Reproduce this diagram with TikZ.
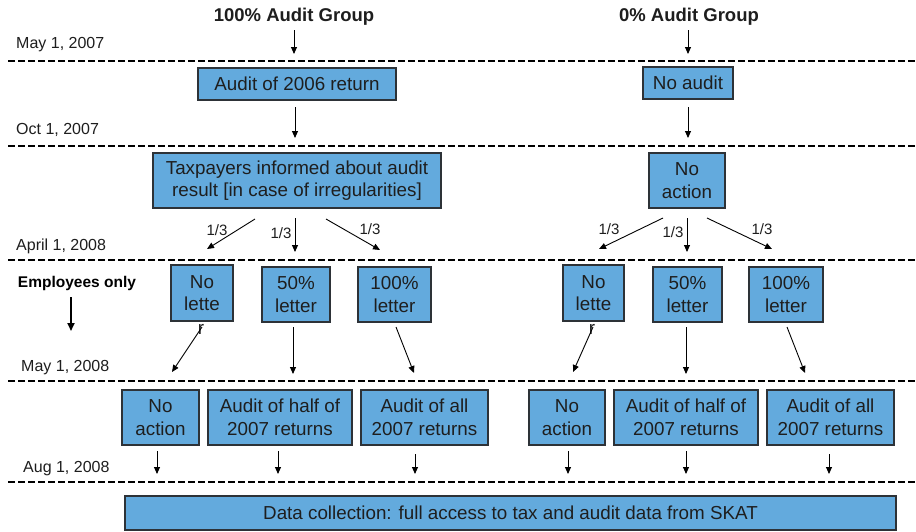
\documentclass[tikz,border=0pt]{standalone}
\usepackage{fontspec}
\setmainfont{Liberation Sans}
\usetikzlibrary{arrows.meta}
\definecolor{boxfill}{RGB}{99,170,221}
\definecolor{boxline}{RGB}{45,50,55}
\definecolor{txt}{RGB}{30,30,30}
\tikzset{
 bx/.style={draw=boxline, line width=1.2pt, fill=boxfill, text=txt, align=center, inner sep=0pt, font=\fontsize{18.8}{22.5}\selectfont},
 arr/.style={line width=0.9pt, -{Triangle[length=7pt,width=6pt]}},
 sepline/.style={line width=1.8pt, dash pattern=on 6.5pt off 3.5pt},
 datelbl/.style={anchor=west, font=\fontsize{16}{18}\selectfont, text=txt, inner sep=0pt},
 fraclbl/.style={font=\fontsize{15}{18}\selectfont, text=txt, inner sep=0pt},
 ttl/.style={font=\bfseries\fontsize{18.5}{22}\selectfont, text=txt, inner sep=0pt},
 overflow/.style={font=\fontsize{18.8}{22}\selectfont, text=txt, inner sep=0pt, anchor=base}
}
\begin{document}
\begin{tikzpicture}[x=1pt,y=-1pt]
\useasboundingbox[fill=white] (0,0) rectangle (916,531);
% separators
\foreach \yy in {61,146,260,381,482} \draw[sepline] (8,\yy) -- (916,\yy);
% titles
\node[ttl] (t1) at (294,17) {100\% Audit Group};
\node[ttl] (t2) at (689,17) {0\% Audit Group};
\node[font=\bfseries\fontsize{15.5}{18}\selectfont, inner sep=0pt] (emp) at (77,283) {Employees only};
% dates
\node[datelbl] (dt1) at (16,45) {May 1, 2007};
\node[datelbl] (dt2) at (16,130) {Oct 1, 2007};
\node[datelbl] (dt3) at (16,246) {April 1, 2008};
\node[datelbl] (dt4) at (21,368) {May 1, 2008};
\node[datelbl] (dt5) at (23,469) {Aug 1, 2008};
% boxes
\node[bx, minimum width=198pt, minimum height=32pt] (a1) at (297,84) {Audit of 2006 return};
\node[bx, minimum width=90pt, minimum height=32pt] (a2) at (688,83) {No audit};
\node[bx, minimum width=288pt, minimum height=55pt] (b1) at (297,180.5) {Taxpayers informed about audit\\result [in case of irregularities]};
\node[bx, minimum width=76pt, minimum height=55pt] (b2) at (687,180.5) {No\\action};
\node[bx, minimum width=62pt, minimum height=56pt] (c1) at (202,293) {No\\lette};
\node[bx, minimum width=68pt, minimum height=55pt] (c2) at (296,294.5) {50\%\\letter};
\node[bx, minimum width=73pt, minimum height=55pt] (c3) at (394.5,294.5) {100\%\\letter};
\node[bx, minimum width=61pt, minimum height=56pt] (c4) at (593.5,293) {No\\lette};
\node[bx, minimum width=69pt, minimum height=55pt] (c5) at (687.5,294.5) {50\%\\letter};
\node[bx, minimum width=74pt, minimum height=55pt] (c6) at (786,294.5) {100\%\\letter};
\node[overflow] (c1r) at (201,334) {r};
\node[overflow] (c4r) at (592,334) {r};
\node[bx, minimum width=77pt, minimum height=55pt] (d1) at (160.5,417.5) {No\\action};
\node[bx, minimum width=144pt, minimum height=55pt] (d2) at (280,417.5) {Audit of half of\\2007 returns};
\node[bx, minimum width=127pt, minimum height=55pt] (d3) at (424.5,417.5) {Audit of all\\2007 returns};
\node[bx, minimum width=76pt, minimum height=55pt] (d4) at (567,417.5) {No\\action};
\node[bx, minimum width=144pt, minimum height=55pt] (d5) at (686,417.5) {Audit of half of\\2007 returns};
\node[bx, minimum width=127pt, minimum height=55pt] (d6) at (830.5,417.5) {Audit of all\\2007 returns};
\node[bx, minimum width=771pt, minimum height=34pt] (e) at (510.5,513) {Data collection: full access to tax and audit data from SKAT};
% fractions
\node[fraclbl] (f1) at (217,230) {1/3};
\node[fraclbl] (f2) at (281,233) {1/3};
\node[fraclbl] (f3) at (370,229) {1/3};
\node[fraclbl] (f4) at (609,229) {1/3};
\node[fraclbl] (f5) at (673,232) {1/3};
\node[fraclbl] (f6) at (762,229) {1/3};
% arrow end coordinates
\coordinate (p1s) at (294,30);  \coordinate (p1e) at (294,54);
\coordinate (p2s) at (688,30);  \coordinate (p2e) at (688,54);
\coordinate (q1s) at (295,107); \coordinate (q1e) at (295,138);
\coordinate (q2s) at (688,107); \coordinate (q2e) at (688,138);
\coordinate (r1s) at (255,219); \coordinate (r1e) at (207,249);
\coordinate (r2s) at (295,218); \coordinate (r2e) at (295,252);
\coordinate (r3s) at (326,219); \coordinate (r3e) at (380,250);
\coordinate (r4s) at (663,218); \coordinate (r4e) at (599,249);
\coordinate (r5s) at (687,218); \coordinate (r5e) at (687,252);
\coordinate (r6s) at (707,218); \coordinate (r6e) at (772,249);
\coordinate (s1s) at (202,327); \coordinate (s1e) at (172,372);
\coordinate (s2s) at (293,327); \coordinate (s2e) at (293,374);
\coordinate (s3s) at (396,327); \coordinate (s3e) at (414,373);
\coordinate (s4s) at (593,327); \coordinate (s4e) at (573,372);
\coordinate (s5s) at (686,327); \coordinate (s5e) at (686,374);
\coordinate (s6s) at (787,327); \coordinate (s6e) at (805,373);
\coordinate (u1s) at (157,451); \coordinate (u1e) at (157,474);
\coordinate (u2s) at (278,451); \coordinate (u2e) at (278,474);
\coordinate (u3s) at (415,454); \coordinate (u3e) at (415,474);
\coordinate (u4s) at (568,451); \coordinate (u4e) at (568,474);
\coordinate (u5s) at (686,451); \coordinate (u5e) at (686,474);
\coordinate (u6s) at (829,454); \coordinate (u6e) at (829,474);
\coordinate (ems) at (71,297);  \coordinate (eme) at (71,331);
% arrows
\foreach \a in {p1,p2,q1,q2,r1,r2,r3,r4,r5,r6,s1,s2,s3,s4,s5,s6,u1,u2,u3,u4,u5,u6}
  \draw[arr] (\a s) -- (\a e);
\draw[line width=1.7pt, -{Triangle[length=8pt,width=7pt]}] (ems) -- (eme);
\end{tikzpicture}
\end{document}
